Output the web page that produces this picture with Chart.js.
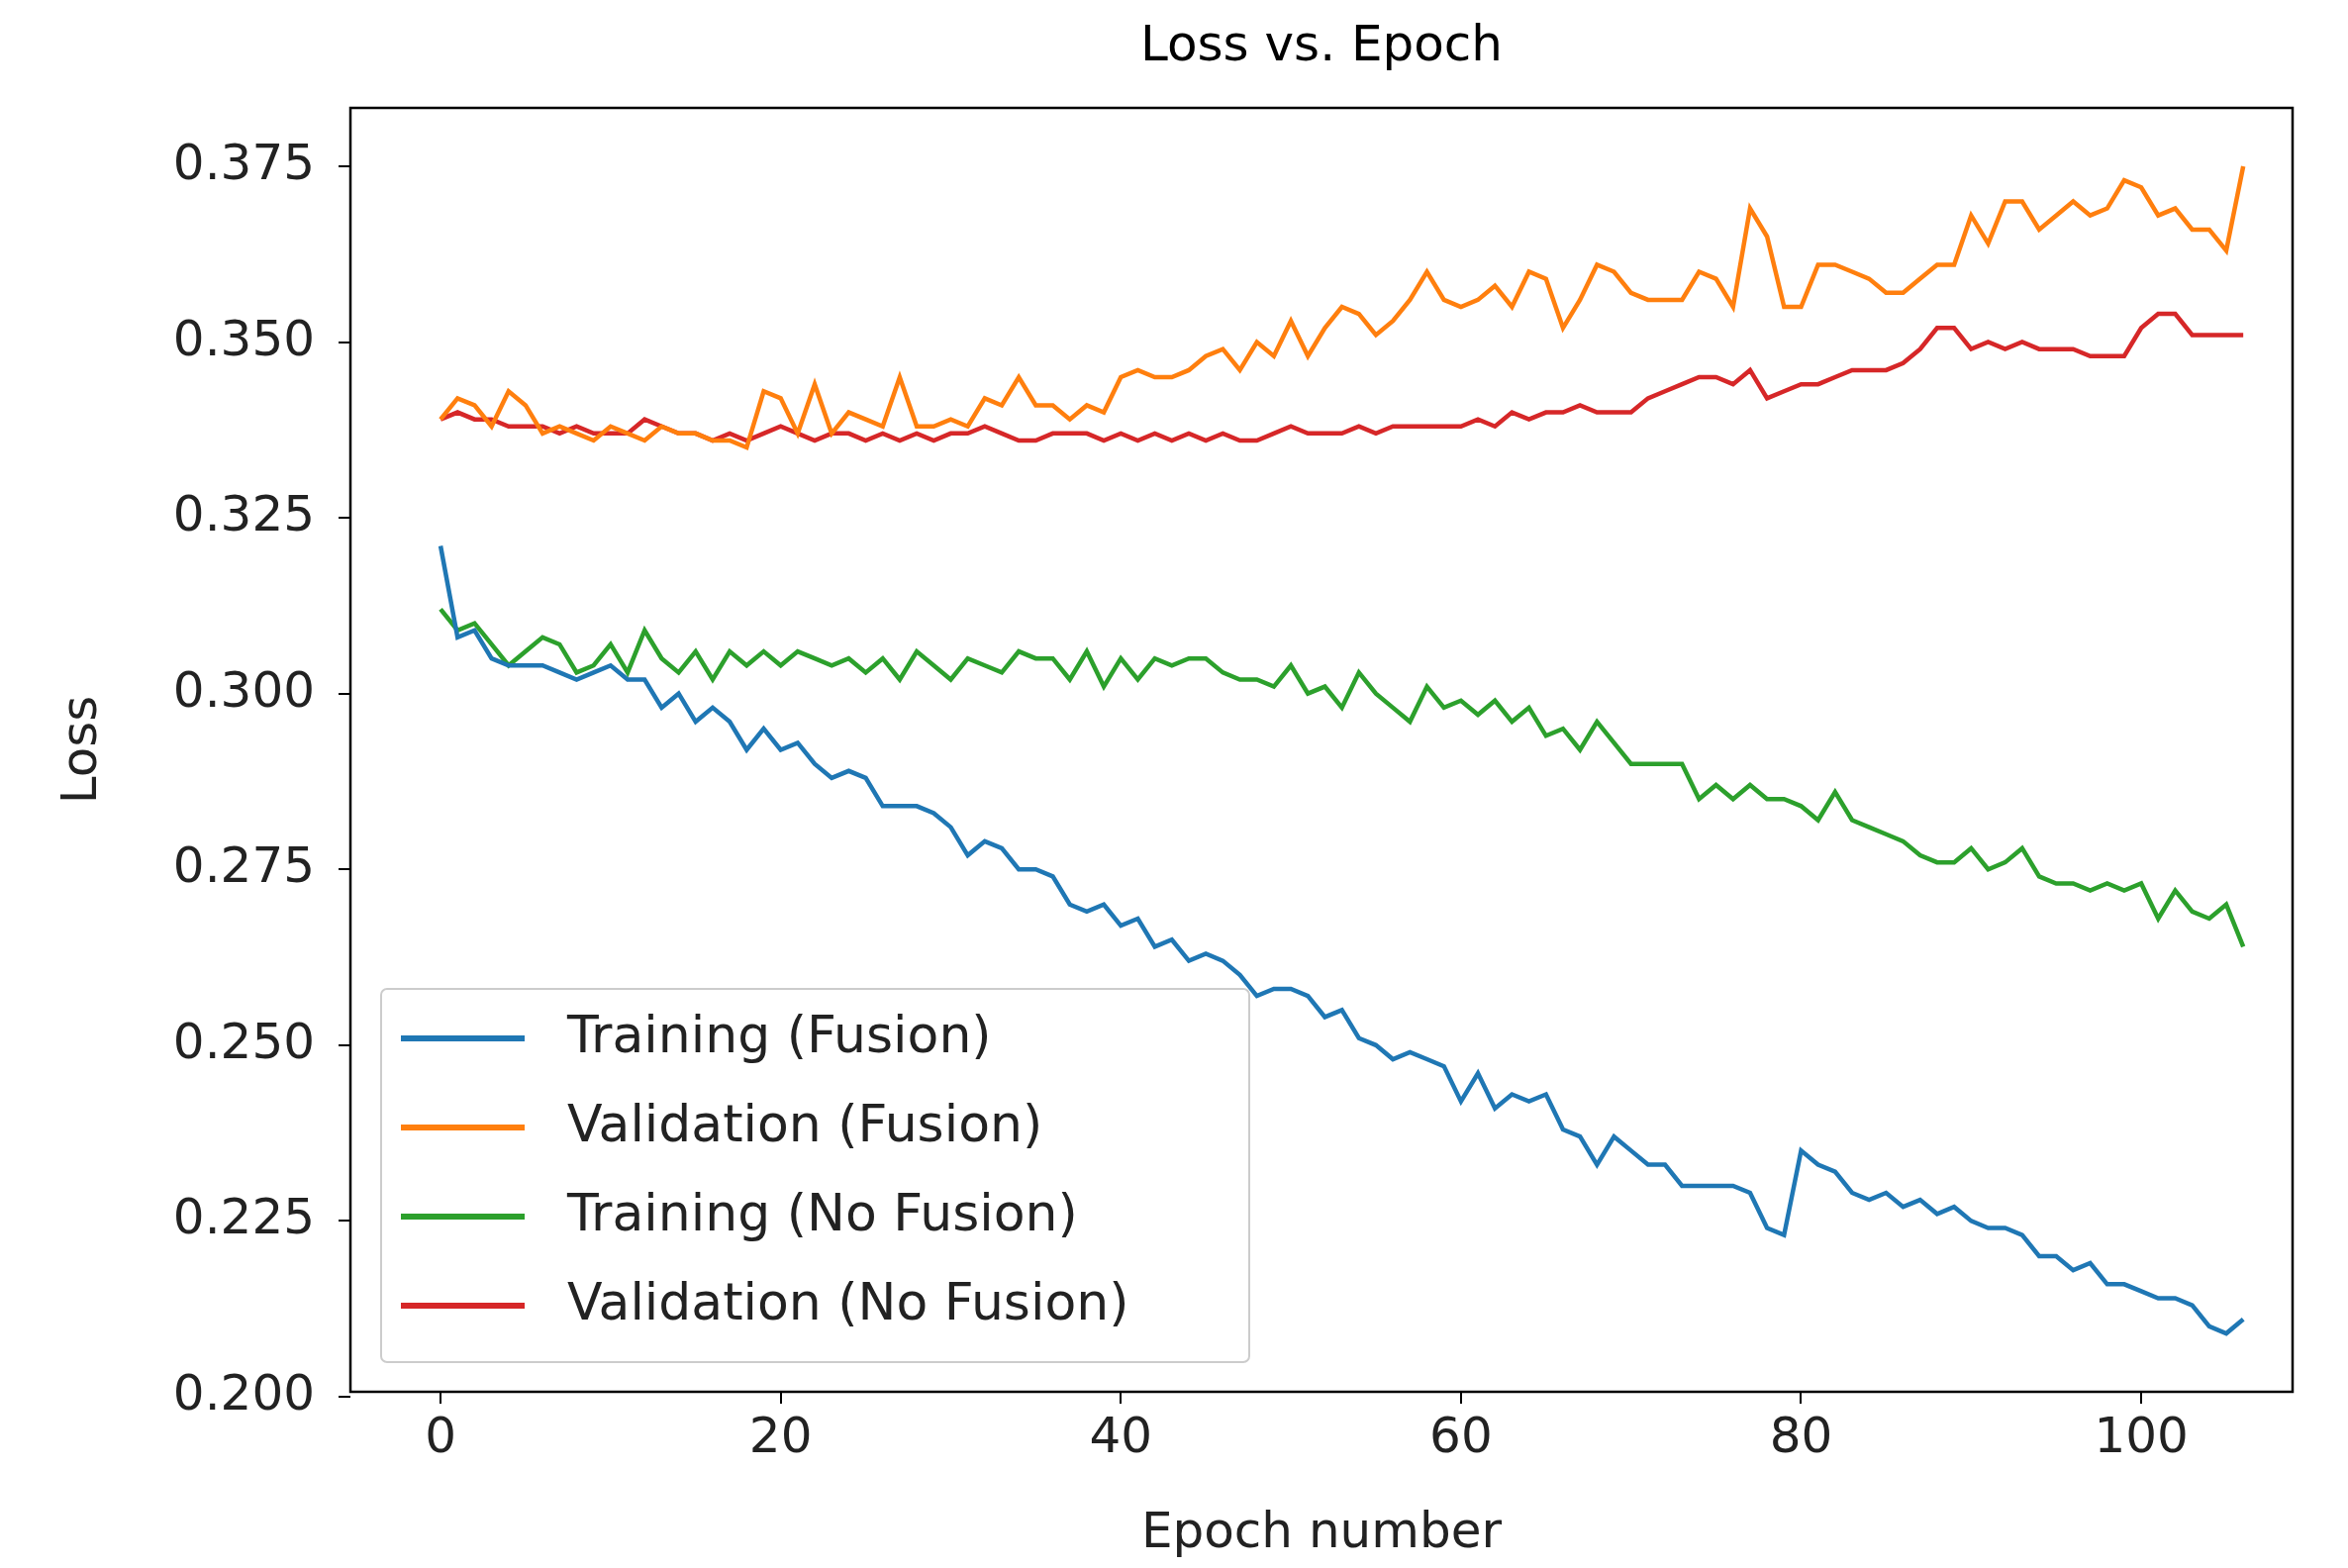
<!DOCTYPE html>
<html><head><meta charset="utf-8">
<script src="https://cdn.jsdelivr.net/npm/chart.js@4"></script>
<style>html,body{margin:0;padding:0;background:#fff}#w{width:2372px;height:1584px}</style>
</head><body><div id="w"><canvas id="c"></canvas></div>
<script>
const epochs = Array.from({length:107},(_, i)=>i);
const trainFusion = [0.321,0.308,0.309,0.305,0.304,0.304,0.304,0.303,0.302,0.303,0.304,0.302,0.302,0.298,0.300,0.296,0.298,0.296,0.292,0.295,0.292,0.293,0.290,0.288,0.289,0.288,0.284,0.284,0.284,0.283,0.281,0.277,0.279,0.278,0.275,0.275,0.274,0.270,0.269,0.270,0.267,0.268,0.264,0.265,0.262,0.263,0.262,0.260,0.257,0.258,0.258,0.257,0.254,0.255,0.251,0.250,0.248,0.249,0.248,0.247,0.242,0.246,0.241,0.243,0.242,0.243,0.238,0.237,0.233,0.237,0.235,0.233,0.233,0.230,0.230,0.230,0.230,0.229,0.224,0.223,0.235,0.233,0.232,0.229,0.228,0.229,0.227,0.228,0.226,0.227,0.225,0.224,0.224,0.223,0.220,0.220,0.218,0.219,0.216,0.216,0.215,0.214,0.214,0.213,0.210,0.209,0.211];
const valFusion = [0.339,0.342,0.341,0.338,0.343,0.341,0.337,0.338,0.337,0.336,0.338,0.337,0.336,0.338,0.337,0.337,0.336,0.336,0.335,0.343,0.342,0.337,0.344,0.337,0.340,0.339,0.338,0.345,0.338,0.338,0.339,0.338,0.342,0.341,0.345,0.341,0.341,0.339,0.341,0.340,0.345,0.346,0.345,0.345,0.346,0.348,0.349,0.346,0.350,0.348,0.353,0.348,0.352,0.355,0.354,0.351,0.353,0.356,0.360,0.356,0.355,0.356,0.358,0.355,0.360,0.359,0.352,0.356,0.361,0.360,0.357,0.356,0.356,0.356,0.360,0.359,0.355,0.369,0.365,0.355,0.355,0.361,0.361,0.360,0.359,0.357,0.357,0.359,0.361,0.361,0.368,0.364,0.370,0.370,0.366,0.368,0.370,0.368,0.369,0.373,0.372,0.368,0.369,0.366,0.366,0.363,0.375];
const trainNoFusion = [0.312,0.309,0.310,0.307,0.304,0.306,0.308,0.307,0.303,0.304,0.307,0.303,0.309,0.305,0.303,0.306,0.302,0.306,0.304,0.306,0.304,0.306,0.305,0.304,0.305,0.303,0.305,0.302,0.306,0.304,0.302,0.305,0.304,0.303,0.306,0.305,0.305,0.302,0.306,0.301,0.305,0.302,0.305,0.304,0.305,0.305,0.303,0.302,0.302,0.301,0.304,0.300,0.301,0.298,0.303,0.300,0.298,0.296,0.301,0.298,0.299,0.297,0.299,0.296,0.298,0.294,0.295,0.292,0.296,0.293,0.290,0.290,0.290,0.290,0.285,0.287,0.285,0.287,0.285,0.285,0.284,0.282,0.286,0.282,0.281,0.280,0.279,0.277,0.276,0.276,0.278,0.275,0.276,0.278,0.274,0.273,0.273,0.272,0.273,0.272,0.273,0.268,0.272,0.269,0.268,0.270,0.264];
const valNoFusion = [0.339,0.340,0.339,0.339,0.338,0.338,0.338,0.337,0.338,0.337,0.337,0.337,0.339,0.338,0.337,0.337,0.336,0.337,0.336,0.337,0.338,0.337,0.336,0.337,0.337,0.336,0.337,0.336,0.337,0.336,0.337,0.337,0.338,0.337,0.336,0.336,0.337,0.337,0.337,0.336,0.337,0.336,0.337,0.336,0.337,0.336,0.337,0.336,0.336,0.337,0.338,0.337,0.337,0.337,0.338,0.337,0.338,0.338,0.338,0.338,0.338,0.339,0.338,0.340,0.339,0.340,0.340,0.341,0.340,0.340,0.340,0.342,0.343,0.344,0.345,0.345,0.344,0.346,0.342,0.343,0.344,0.344,0.345,0.346,0.346,0.346,0.347,0.349,0.352,0.352,0.349,0.350,0.349,0.350,0.349,0.349,0.349,0.348,0.348,0.348,0.352,0.354,0.354,0.351,0.351,0.351,0.351];
const seriesNames = ['Training (Fusion)','Validation (Fusion)','Training (No Fusion)','Validation (No Fusion)'];
const colors = ['#1f77b4','#ff7f0e','#2ca02c','#d62728'];
const yTicks = [0.200,0.225,0.250,0.275,0.300,0.325,0.350,0.375];
const xTicks = [0,20,40,60,80,100];

const F = 'DejaVu Sans';
const all = [trainFusion,valFusion,trainNoFusion,valNoFusion];
const deco = {
  id:'deco',
  afterDraw(ch){
    const c=ch.ctx, a=ch.chartArea;
    c.save();
    c.strokeStyle='#000'; c.lineWidth=2.5;
    c.strokeRect(a.left,a.top,a.right-a.left,a.bottom-a.top);
    c.fillStyle='#000'; c.font='50px '+F; c.textAlign='center'; c.textBaseline='middle';
    c.fillText('Loss vs. Epoch',(a.left+a.right)/2,48);
    const lx=385, ly=999, lw=877, lh=377;
    c.fillStyle='rgba(255,255,255,0.8)'; c.strokeStyle='#ccc'; c.lineWidth=2;
    c.beginPath(); c.roundRect(lx,ly,lw,lh,6); c.fill(); c.stroke();
    c.font='52px '+F; c.textAlign='left';
    seriesNames.forEach((n,i)=>{
      const y=ly+50+i*90;
      c.strokeStyle=colors[i]; c.lineWidth=6;
      c.beginPath(); c.moveTo(lx+20,y); c.lineTo(lx+145,y); c.stroke();
      c.fillStyle='#222'; c.fillText(n,lx+188,y);
    });
    c.restore();
  }
};
new Chart(document.getElementById('c'),{
  type:'line',
  data:{labels:epochs,datasets:all.map((d,i)=>({label:seriesNames[i],data:d.map((v,j)=>({x:j,y:v})),borderColor:colors[i],borderWidth:4.5,pointRadius:0,tension:0,fill:false}))},
  options:{
    responsive:true,maintainAspectRatio:false,animation:false,
    layout:{padding:{top:109,right:56,left:50,bottom:0}},
    plugins:{legend:{display:false},title:{display:false},tooltip:{enabled:false}},
    scales:{
      x:{type:'linear',min:-5.3,max:108.9,
        afterBuildTicks(s){s.ticks=xTicks.map(v=>({value:v}));},
        afterFit(s){s.height=178;},
        grid:{drawOnChartArea:false,drawTicks:true,tickLength:12,color:'#000',lineWidth:2},
        border:{display:false},
        ticks:{font:{family:F,size:50},color:'#222',padding:6},
        title:{display:true,text:'Epoch number',font:{family:F,size:50},color:'#222',padding:{top:4}}},
      y:{type:'linear',min:0.2007,max:0.3833,
        afterBuildTicks(s){s.ticks=yTicks.map(v=>({value:v}));},
        afterFit(s){s.width=304;},
        grid:{drawOnChartArea:false,drawTicks:true,tickLength:12,color:'#000',lineWidth:2},
        border:{display:false},
        ticks:{font:{family:F,size:50},color:'#222',padding:24,callback:v=>v.toFixed(3)},
        title:{display:true,text:'Loss',font:{family:F,size:50},color:'#222',padding:{bottom:10}}}
    }
  },
  plugins:[deco]
});
</script></body></html>
